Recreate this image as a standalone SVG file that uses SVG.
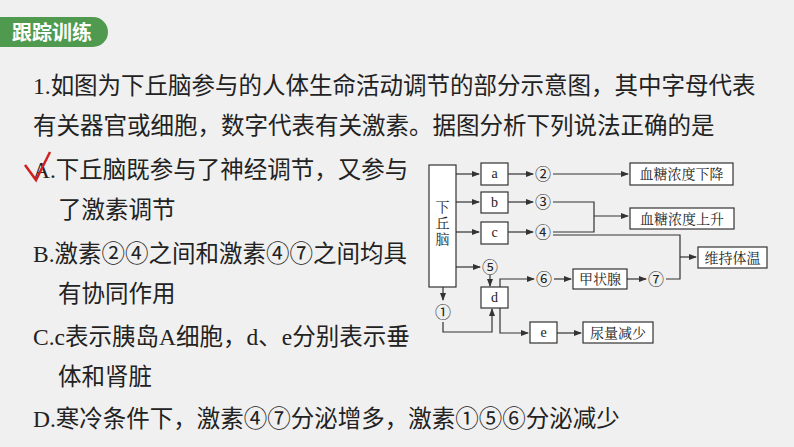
<svg xmlns="http://www.w3.org/2000/svg" width="794" height="447" viewBox="0 0 794 447">
<style>
.q{font-family:"Liberation Serif","Noto Sans CJK SC",serif;font-size:23.5px;fill:#222}
.b{fill:#fff;stroke:#333;stroke-width:1.2}
.t{font-family:"Liberation Serif","Noto Serif CJK SC","Noto Sans CJK SC",serif;font-size:14px;fill:#222;text-anchor:middle}
.n{font-family:"Noto Sans CJK SC",sans-serif;font-size:16px;fill:#222;text-anchor:middle}
.l{fill:none;stroke:#333;stroke-width:1.2}
</style>
<defs><marker id="ar" markerWidth="8" markerHeight="6" refX="7" refY="3" orient="auto" markerUnits="userSpaceOnUse"><path d="M0,0L8,3L0,6Z" fill="#333"/></marker></defs>
<rect width="794" height="447" fill="#f0f0f0"/>
<g id="header"><path d="M0,17H93A15,15 0 0 1 93,47H0Z" fill="#4f9a4f"/>
<text x="12" y="40" font-family="Noto Sans CJK SC,sans-serif" font-weight="bold" font-size="20" fill="#fff">跟踪训练</text></g>
<g id="question">
<text class="q" x="33" y="94">1.如图为下丘脑参与的人体生命活动调节的部分示意图，其中字母代表</text>
<text class="q" x="33" y="134">有关器官或细胞，数字代表有关激素。据图分析下列说法正确的是</text>
<text class="q" x="33" y="178">A.下丘脑既参与了神经调节，又参与</text>
<text class="q" x="58" y="218">了激素调节</text>
<text class="q" x="33" y="262">B.激素②④之间和激素④⑦之间均具</text>
<text class="q" x="58" y="302">有协同作用</text>
<text class="q" x="33" y="345">C.c表示胰岛A细胞，d、e分别表示垂</text>
<text class="q" x="58" y="385">体和肾脏</text>
<text class="q" x="33" y="427">D.寒冷条件下，激素④⑦分泌增多，激素①⑤⑥分泌减少</text>
<path d="M25,165L36,180L50,152" fill="none" stroke="#d02020" stroke-width="2.5"/>
</g>
<g id="hyp"><rect class="b" x="429" y="165" width="27" height="122"/><text class="t" x="442.5" y="212">下</text><text class="t" x="442.5" y="228">丘</text><text class="t" x="442.5" y="244">脑</text></g>
<g id="a"><rect class="b" x="481" y="163" width="27" height="22"/><text class="t" x="494.5" y="178">a</text></g>
<g id="b"><rect class="b" x="481" y="192" width="27" height="21"/><text class="t" x="494.5" y="207">b</text></g>
<g id="c"><rect class="b" x="481" y="222" width="27" height="22"/><text class="t" x="494.5" y="237">c</text></g>
<g id="d"><rect class="b" x="481" y="287" width="27" height="21"/><text class="t" x="494.5" y="302">d</text></g>
<g id="e"><rect class="b" x="530" y="322" width="27" height="21"/><text class="t" x="543.5" y="337">e</text></g>
<g id="down"><rect class="b" x="630" y="163" width="103" height="22"/><text class="t" x="681.5" y="179">血糖浓度下降</text></g>
<g id="up"><rect class="b" x="630" y="208" width="104" height="21"/><text class="t" x="682" y="224">血糖浓度上升</text></g>
<g id="temp"><rect class="b" x="698" y="247" width="69" height="21"/><text class="t" x="732.5" y="263">维持体温</text></g>
<g id="thy"><rect class="b" x="573" y="269" width="54" height="20"/><text class="t" x="600" y="284">甲状腺</text></g>
<g id="urine"><rect class="b" x="583" y="322" width="70" height="21"/><text class="t" x="618" y="338">尿量减少</text></g>
<g id="hormones" class="n">
<text x="543" y="180">②</text><text x="543" y="208">③</text><text x="543" y="238">④</text>
<text x="490" y="273">⑤</text><text x="544" y="285">⑥</text><text x="656" y="285">⑦</text><text x="443" y="318">①</text>
</g>
<g id="connectors">
<path class="l" d="M456,174H479" marker-end="url(#ar)"/>
<path class="l" d="M456,202H479" marker-end="url(#ar)"/>
<path class="l" d="M456,232H479" marker-end="url(#ar)"/>
<path class="l" d="M456,267H480" marker-end="url(#ar)"/>
<path class="l" d="M508,174H533" marker-end="url(#ar)"/>
<path class="l" d="M508,202H533" marker-end="url(#ar)"/>
<path class="l" d="M508,232H533" marker-end="url(#ar)"/>
<path class="l" d="M553,174H628" marker-end="url(#ar)"/>
<path class="l" d="M553,202H594V232H553"/>
<path class="l" d="M594,216H628" marker-end="url(#ar)"/>
<path class="l" d="M553,235H680V279H666"/>
<path class="l" d="M680,257H696" marker-end="url(#ar)"/>
<path class="l" d="M490,275V286" marker-end="url(#ar)"/>
<path class="l" d="M500,287V279H534" marker-end="url(#ar)"/>
<path class="l" d="M554,279H571" marker-end="url(#ar)"/>
<path class="l" d="M627,279H646" marker-end="url(#ar)"/>
<path class="l" d="M443,287V300" marker-end="url(#ar)"/>
<path class="l" d="M443,322V332H492V309" marker-end="url(#ar)"/>
<path class="l" d="M500,308V333H528" marker-end="url(#ar)"/>
<path class="l" d="M557,333H581" marker-end="url(#ar)"/>
</g>
</svg>
